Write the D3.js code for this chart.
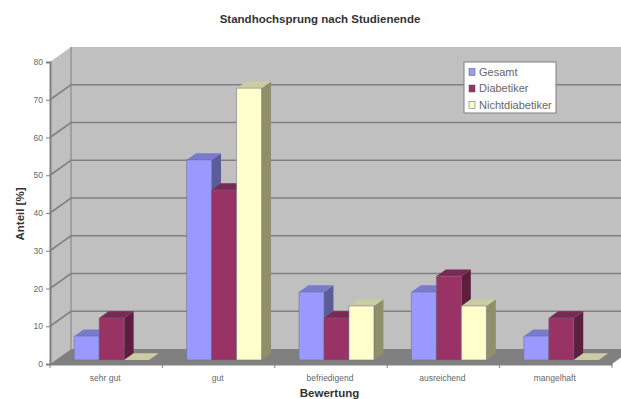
<!DOCTYPE html>
<html>
<head>
<meta charset="utf-8">
<script src="https://cdn.jsdelivr.net/npm/d3@7"></script>
<style>
  html, body { margin: 0; padding: 0; background: #fff; }
  svg { display: block; }
  text { font-family: "Liberation Sans", Arial, sans-serif; }
</style>
</head>
<body>
<svg id="chart" width="621" height="399"></svg>
<script>
// Standing high jump ratings after the study, share per group
const categories = ["sehr gut", "gut", "befriedigend", "ausreichend", "mangelhaft"];
const seriesNames = ["Gesamt", "Diabetiker", "Nichtdiabetiker"];
const gesamt = [6.3, 53, 18, 18, 6.3];
const diabetiker = [11.1, 45, 11.1, 22.2, 11.1];
const nichtdiabetiker = [0, 72, 14.3, 14.3, 0];
const yTicks = [0, 10, 20, 30, 40, 50, 60, 70, 80];
const seriesValues = [gesamt, diabetiker, nichtdiabetiker];

const frontColors = ["#9999ff", "#993366", "#ffffcc"];
const topColors = ["#7a7acc", "#7a2952", "#cccca3"];
const sideColors = ["#5c5c99", "#5c1f3d", "#8f8f6b"];

const svg = d3.select("#chart");

const x = d3.scaleBand().domain(categories).range([50, 612]);
const y = d3.scaleLinear().domain([0, 80]).range([364, 62]);
const inner = d3.scaleBand().domain(seriesNames).range([18.5, 93.5]);

// Oblique projection: depth 0 is the front edge of the floor, depth 1 the back wall
const depthX = 21, depthY = 15;
const project = (px, value, depth) => [px + depthX * depth, y(value) - depthY * depth];
const path = pts => "M" + pts.map(p => p.join(",")).join("L") + "Z";

// Walls and floor
const [x0, x1] = x.range();
const yMax = y.domain()[1];
svg.append("path").attr("fill", "#c0c0c0")
  .attr("d", path([project(x0, 0, 1), project(x1, 0, 1), project(x1, yMax, 1), project(x0, yMax, 1)]));
svg.append("path").attr("fill", "#c0c0c0")
  .attr("d", path([project(x0, 0, 0), project(x0, 0, 1), project(x0, yMax, 1), project(x0, yMax, 0)]));
svg.append("path").attr("fill", "#808080")
  .attr("d", path([project(x0, 0, 0), project(x1, 0, 0), project(x1, 0, 1), project(x0, 0, 1)]));

// Gridlines run along the side wall and across the back wall
const grid = svg.append("g").attr("fill", "none").attr("stroke", "#808080").attr("stroke-width", 1.6);
yTicks.slice(1, -1).forEach(t => {
  grid.append("path").attr("d", d3.line()([project(x0, t, 0), project(x0, t, 1), project(x1, t, 1)]));
});
grid.append("path").attr("stroke-width", 1).attr("d", d3.line()([project(x0, 0, 1), project(x0, yMax, 1)]));

// Bars: side and top faces first, then the front so the next bar overlaps correctly
const zFront = 0.27, zBack = 0.72;
const bars = svg.append("g");
categories.forEach((cat, c) => {
  seriesNames.forEach((name, s) => {
    const v = seriesValues[s][c];
    const l = x(cat) + inner(name), r = l + inner.bandwidth();
    bars.append("path").attr("fill", sideColors[s])
      .attr("d", path([project(r, 0, zFront), project(r, 0, zBack), project(r, v, zBack), project(r, v, zFront)]));
    bars.append("path").attr("fill", topColors[s])
      .attr("d", path([project(l, v, zFront), project(r, v, zFront), project(r, v, zBack), project(l, v, zBack)]));
    if (v > 0) {
      bars.append("path").attr("fill", frontColors[s]).attr("stroke", "#6a6a80").attr("stroke-width", 0.5)
        .attr("d", path([project(l, 0, zFront), project(r, 0, zFront), project(r, v, zFront), project(l, v, zFront)]));
    }
  });
});

// Axes on the front edges of the chart box
const xAxis = d3.axisBottom(x).tickValues([]).tickSize(0);
const gx = svg.append("g").attr("transform", `translate(0,${y(0)})`).call(xAxis);
gx.select(".domain").attr("stroke", "#808080").attr("stroke-width", 2);
const edgeTicks = d3.range(categories.length + 1).map(i => x0 + i * x.step());
gx.selectAll("line.edge").data(edgeTicks).join("line").attr("class", "edge")
  .attr("x1", d => d).attr("x2", d => d).attr("y1", 0).attr("y2", 4)
  .attr("stroke", "#808080");
gx.selectAll("text.cat").data(categories).join("text").attr("class", "cat")
  .attr("x", d => x(d) + x.bandwidth() / 2 - 1)
  .attr("y", 16.5).attr("text-anchor", "middle")
  .attr("font-size", 8.5).attr("fill", "#666").text(d => d);

const yAxis = d3.axisLeft(y).tickValues(yTicks).tickSize(4).tickPadding(3);
const gy = svg.append("g").attr("transform", `translate(${x0},0)`).call(yAxis);
gy.select(".domain").attr("stroke", "#808080").attr("stroke-width", 2);
gy.selectAll("line").attr("stroke", "#808080");
gy.selectAll("text").attr("font-family", "Liberation Sans").attr("font-size", 8.5).attr("fill", "#666");

// Titles
svg.append("text").attr("x", 320).attr("y", 23).attr("text-anchor", "middle")
  .attr("font-size", 11.5).attr("font-weight", "bold").attr("fill", "#333")
  .text("Standhochsprung nach Studienende");
svg.append("text").attr("x", 329.5).attr("y", 397).attr("text-anchor", "middle")
  .attr("font-size", 11.5).attr("font-weight", "bold").attr("fill", "#333")
  .text("Bewertung");
svg.append("text").attr("transform", "translate(24,214) rotate(-90)").attr("text-anchor", "middle")
  .attr("font-size", 11.5).attr("font-weight", "bold").attr("fill", "#333")
  .text("Anteil [%]");

// Legend
const legend = svg.append("g").attr("transform", "translate(464,62)");
legend.append("rect").attr("width", 92).attr("height", 51)
  .attr("fill", "#fff").attr("stroke", "#808080").attr("stroke-width", 1);
const rows = legend.selectAll("g").data(seriesNames).join("g")
  .attr("transform", (d, i) => `translate(5,${10 + i * 16.5})`);
rows.append("rect").attr("y", -3.5).attr("width", 6).attr("height", 7)
  .attr("fill", (d, i) => frontColors[i]).attr("stroke", "#555").attr("stroke-width", 0.5);
rows.append("text").attr("x", 10).attr("y", 3.5)
  .attr("font-size", 11).attr("fill", "#666").text(d => d);
</script>
</body>
</html>
